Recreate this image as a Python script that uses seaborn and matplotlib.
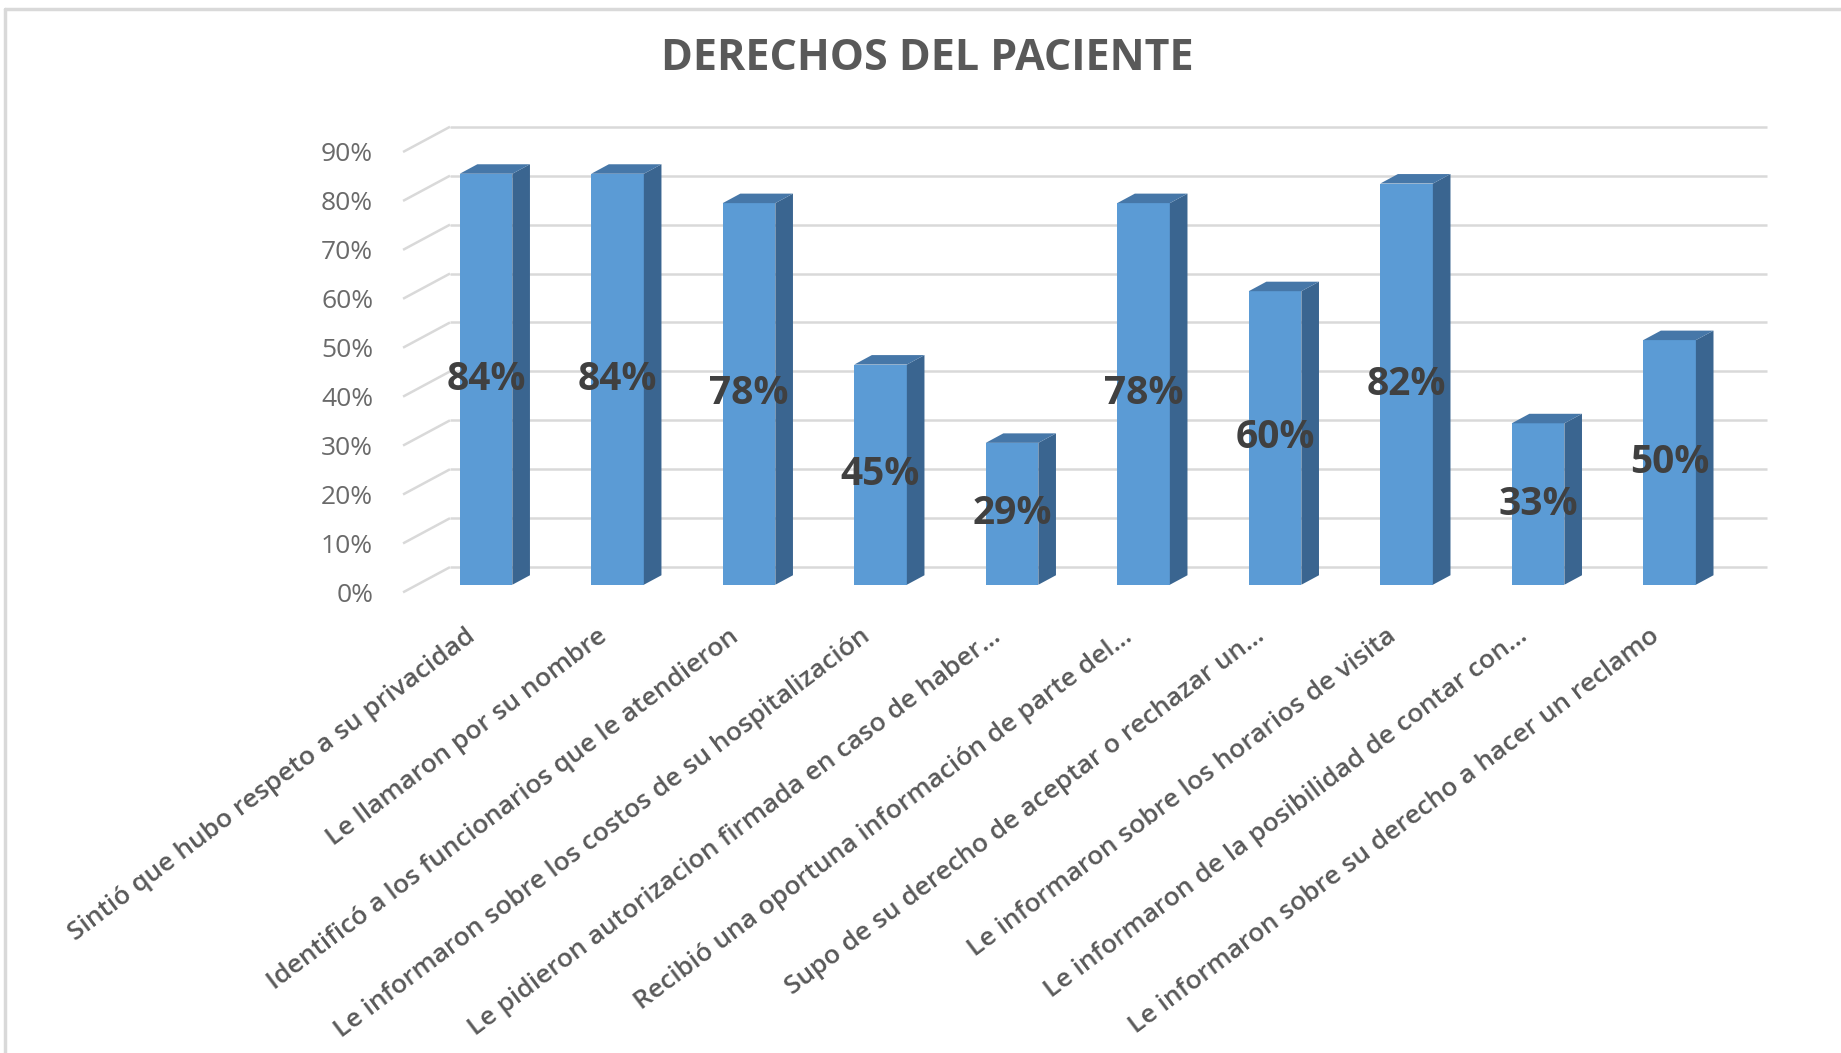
import matplotlib
matplotlib.use("Agg")
import matplotlib.pyplot as plt
import matplotlib.transforms as mtransforms
from matplotlib.patches import Polygon
from matplotlib.lines import Line2D
import numpy as np
import pandas as pd
import seaborn as sns

# data
categorias = [
    "Sintió que hubo respeto a su privacidad",
    "Le llamaron por su nombre",
    "Identificó a los funcionarios que le atendieron",
    "Le informaron sobre los costos de su hospitalización",
    "Le pidieron autorizacion firmada en caso de haber…",
    "Recibió una oportuna información de parte del…",
    "Supo de su derecho de aceptar o rechazar un…",
    "Le informaron sobre los horarios de visita",
    "Le informaron de la posibilidad de contar con…",
    "Le informaron sobre su derecho a hacer un reclamo",
]
porcentajes = [0.84, 0.84, 0.78, 0.45, 0.29, 0.78, 0.60, 0.82, 0.33, 0.50]
yticks = [0.0, 0.1, 0.2, 0.3, 0.4, 0.5, 0.6, 0.7, 0.8, 0.9]
ytick_labels = ["0%", "10%", "20%", "30%", "40%", "50%", "60%", "70%", "80%", "90%"]
titulo = "DERECHOS DEL PACIENTE"

sns.set_theme(style="white")
plt.rcParams["font.family"] = ["Open Sans", "DejaVu Sans"]

df = pd.DataFrame({"pregunta": categorias, "valor": porcentajes})

fig = plt.figure(figsize=(18.41, 10.53), dpi=100)
ax = fig.add_axes([0.2140, 0.4261, 0.7536, 0.46])

# fake 3D geometry (in data units)
dx, dy = 0.134, 0.0194          # bar depth
wall_dx, wall_dy = 0.357, 0.0515  # front plane -> back wall
front_x, front_dy = -0.631, -0.0155
wall_right = 9.74

grid_c = "#D9D9D9"
for v in yticks:
    ax.plot([front_x, front_x + wall_dx], [v + front_dy, v + front_dy + wall_dy],
            color=grid_c, lw=1.8, zorder=0, solid_capstyle="butt")
    ax.plot([front_x + wall_dx, wall_right], [v + front_dy + wall_dy] * 2,
            color=grid_c, lw=1.8, zorder=0, solid_capstyle="butt")

sns.barplot(data=df, x="pregunta", y="valor", color="#5B9BD5", saturation=1,
            width=0.4, ax=ax, zorder=3, linewidth=0)

for p, v in zip(ax.patches, porcentajes):
    x0 = p.get_x()
    w = p.get_width()
    h = p.get_height()
    side = Polygon([(x0 + w, 0), (x0 + w + dx, dy), (x0 + w + dx, h + dy), (x0 + w, h)],
                   closed=True, facecolor="#3A6590", edgecolor="none", zorder=3)
    top = Polygon([(x0, h), (x0 + dx, h + dy), (x0 + w + dx, h + dy), (x0 + w, h)],
                  closed=True, facecolor="#4677A8", edgecolor="none", zorder=3)
    ax.add_patch(side)
    ax.add_patch(top)
    ax.text(x0 + w / 2, h / 2, f"{v:.0%}", ha="center", va="center",
            fontsize=28, fontweight="bold", color="#404040", zorder=5)

ax.set_xlim(-0.7, 9.85)
ax.set_ylim(-0.04, 0.95)
for s in ax.spines.values():
    s.set_visible(False)

ax.set_yticks([v + front_dy for v in yticks])
ax.set_yticklabels(ytick_labels, fontsize=19, color="#6A6A6A")
ax.tick_params(axis="y", length=0, pad=15)

ax.set_xticks(range(len(categorias)))
ax.set_xticklabels(categorias, rotation=37, ha="right", va="top",
                   rotation_mode="anchor", fontsize=19, fontweight="semibold",
                   color="#595959")
ax.tick_params(axis="x", length=0, pad=14)
shift = mtransforms.ScaledTranslation(-21 / 100, 0, fig.dpi_scale_trans)
for lab in ax.get_xticklabels():
    lab.set_transform(lab.get_transform() + shift)
ax.set_xlabel("")
ax.set_ylabel("")

fig.text(0.5036, 0.944, titulo, ha="center", va="center", fontsize=31,
         fontweight="bold", color="#595959")

# chart border (top and left visible)
fig.add_artist(Line2D([5 / 1841, 1], [1 - 9 / 1053] * 2, color="#D9D9D9", lw=2.5,
                      transform=fig.transFigure))
fig.add_artist(Line2D([5 / 1841] * 2, [0, 1 - 9 / 1053], color="#D9D9D9", lw=2.5,
                      transform=fig.transFigure))

fig.savefig("out.png", dpi=100, facecolor="white")
